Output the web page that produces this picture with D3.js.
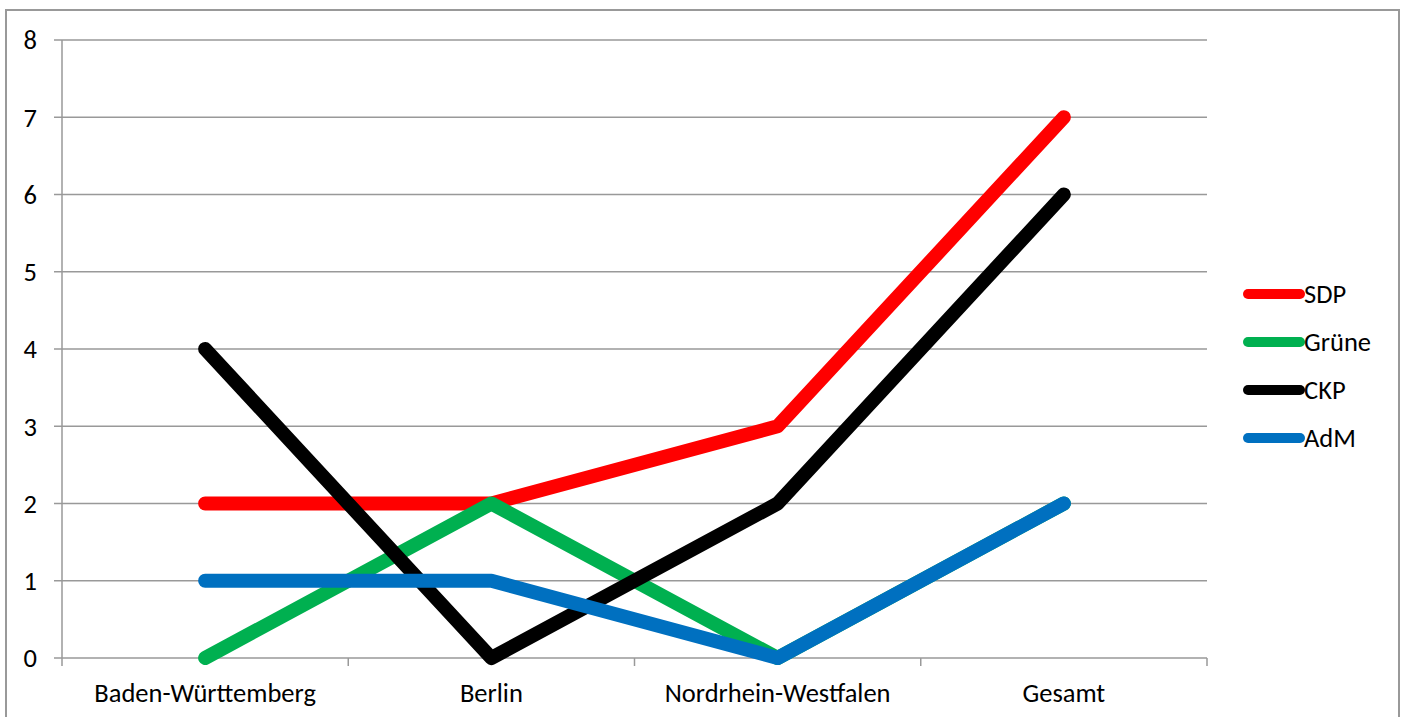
<!DOCTYPE html>
<html><head><meta charset="utf-8">
<script src="https://cdn.jsdelivr.net/npm/d3@7"></script>
<style>body{margin:0;background:#fff}svg{display:block}text{font-family:Carlito,Lato,"Open Sans",sans-serif}</style>
</head><body><svg id="c" width="1405" height="717"></svg>
<script>
const categories = ["Baden-Württemberg","Berlin","Nordrhein-Westfalen","Gesamt"];
const seriesNames = ["SDP","Grüne","CKP","AdM"];
const sdp = [2,2,3,7];
const gruene = [0,2,0,2];
const ckp = [4,0,2,6];
const adm = [1,1,0,2];
const yTicks = [0,1,2,3,4,5,6,7,8];
const colors = ["#FF0000","#00B050","#000000","#0070C0"];
const series = [sdp,gruene,ckp,adm];

(function(){
const svg = d3.select("#c");
const fs = 26.5;
svg.append("rect").attr("x",6).attr("y",10).attr("width",1393).attr("height",720)
  .attr("fill","none").attr("stroke","#999").attr("stroke-width",2);

const pL=62,pR=1207,pT=40,pB=658;
const x = d3.scaleBand().domain(categories).range([pL,pR]);
const y = d3.scaleLinear().domain([0,8]).range([pB,pT]);

svg.append("g").selectAll("line").data(yTicks).join("line")
  .attr("x1",pL-8).attr("x2",pR).attr("y1",d=>y(d)).attr("y2",d=>y(d))
  .attr("stroke","#999").attr("stroke-width",1.5);
svg.append("line").attr("x1",pL).attr("x2",pL).attr("y1",pT).attr("y2",pB)
  .attr("stroke","#999").attr("stroke-width",1.5);
const bounds = categories.map(c=>x(c)).concat([pR]);
svg.append("g").selectAll("line").data(bounds).join("line")
  .attr("x1",d=>d).attr("x2",d=>d).attr("y1",pB).attr("y2",pB+8)
  .attr("stroke","#999").attr("stroke-width",1.5);
svg.append("g").selectAll("text").data(yTicks).join("text")
  .attr("x",37).attr("y",d=>y(d)).attr("dy","0.35em").attr("text-anchor","end")
  .attr("font-size",fs).text(d=>d);
svg.append("g").selectAll("text").data(categories).join("text")
  .attr("x",d=>x(d)+x.bandwidth()/2).attr("y",693).attr("dy","0.35em").attr("text-anchor","middle")
  .attr("font-size",fs).text(d=>d);

const line = d3.line().x((d,i)=>x(categories[i])+x.bandwidth()/2).y(d=>y(d));
series.forEach((s,i)=>{
  svg.append("path").attr("d",line(s)).attr("fill","none").attr("stroke",colors[i])
    .attr("stroke-width",14).attr("stroke-linecap","round").attr("stroke-linejoin","round");
});

const lg = svg.append("g");
seriesNames.forEach((n,i)=>{
  const ly = 294 + i*48;
  lg.append("line").attr("x1",1248).attr("x2",1300).attr("y1",ly).attr("y2",ly)
    .attr("stroke",colors[i]).attr("stroke-width",10).attr("stroke-linecap","round");
  lg.append("text").attr("x",1304).attr("y",ly).attr("dy","0.35em").attr("font-size",fs).text(n);
});
})();
</script></body></html>
